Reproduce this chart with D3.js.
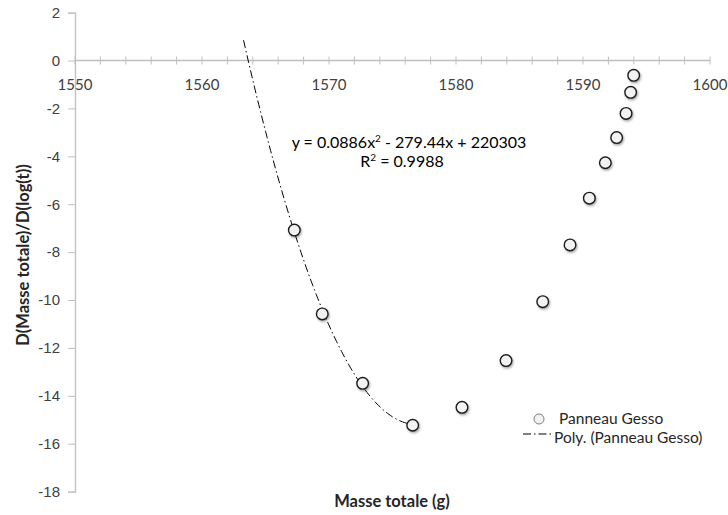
<!DOCTYPE html>
<html>
<head>
<meta charset="utf-8">
<script src="https://cdn.jsdelivr.net/npm/d3@7"></script>
<style>
    body { margin: 0; background: #fff; }
    svg { font-family: Lato, 'Open Sans', sans-serif; }
    .axis text { fill: #404040; font-size: 15px; }
</style>
</head>
<body>
<svg width="728" height="515"></svg>
<script>
// masses (g) and derivative values
let masse = [1567.27, 1569.47, 1572.65, 1576.59, 1580.47, 1583.94, 1586.83,
             1588.98, 1590.5, 1591.76, 1592.65, 1593.39, 1593.75, 1593.99];
let deriv = [-7.08, -10.58, -13.48, -15.23, -14.48, -12.53, -10.07,
             -7.70, -5.75, -4.27, -3.22, -2.21, -1.33, -0.62];
let fitCount = 4;          // trend fitted on the first points
let backcast = 4;          // trend extended backward (g)
let xTicks = [1550, 1560, 1570, 1580, 1590, 1600];
let yTicks = [2, 0, -2, -4, -6, -8, -10, -12, -14, -16, -18];

function main() {
    let svg = d3.select('svg'),
        margin = { top: 12.6, bottom: 23.4, left: 75, right: 18 },
        width = svg.attr('width') - margin.left - margin.right,
        height = svg.attr('height') - margin.top - margin.bottom;

    let xScale = d3.scaleLinear().domain([1550, 1600]).range([margin.left, margin.left + width]),
        yScale = d3.scaleLinear().domain([-18, 2]).range([margin.top + height, margin.top]);

    let data = masse.map((m, i) => ({ x: m, y: deriv[i] }));

    // drop shadow for markers
    let defs = svg.append('defs');
    let f = defs.append('filter').attr('id', 'shadow').attr('x', '-50%').attr('y', '-50%').attr('width', '200%').attr('height', '200%');
    f.append('feDropShadow').attr('dx', 1).attr('dy', 1.5).attr('stdDeviation', 1).attr('flood-color', '#000').attr('flood-opacity', 0.35);

    //Y Axis
    let yAxis = svg.append('g')
        .attr('class', 'axis')
        .attr('transform', 'translate(' + margin.left + ', 0)')
        .call(d3.axisLeft(yScale).tickValues(yTicks).tickSize(7).tickPadding(8).tickFormat(d3.format('d')));
    yAxis.select('.domain').attr('stroke', '#bfbfbf').attr('stroke-width', 1.3);
    yAxis.selectAll('.tick line').attr('stroke', '#bfbfbf');
    yAxis.selectAll('.tick text').text(d => d < 0 ? '-' + Math.abs(d) : d);

    //X Axis at y = 0 with crossing minor ticks
    let xMinor = d3.range(1550, 1600.1, 2);
    let xAxis = svg.append('g')
        .attr('class', 'axis')
        .attr('transform', 'translate(0, ' + yScale(0) + ')');
    xAxis.append('line')
        .attr('x1', xScale(1550)).attr('x2', xScale(1600))
        .attr('stroke', '#bfbfbf').attr('stroke-width', 1.3);
    xAxis.selectAll('line.mt')
        .data(xMinor)
        .enter()
        .append('line')
        .attr('class', 'mt')
        .attr('x1', d => xScale(d)).attr('x2', d => xScale(d))
        .attr('y1', -4).attr('y2', 4)
        .attr('stroke', '#bfbfbf');
    xAxis.selectAll('text')
        .data(xTicks)
        .enter()
        .append('text')
        .attr('x', d => xScale(d))
        .attr('y', 29.5)
        .attr('text-anchor', 'middle')
        .text(d => d);

    // polynomial trend (least squares, order 2)
    let pts = data.slice(0, fitCount);
    let n = pts.length, x0 = d3.mean(pts, d => d.x);
    let S = [0, 0, 0, 0, 0], T = [0, 0, 0];
    pts.forEach(p => {
        let u = p.x - x0;
        for (let k = 0; k < 5; k++) S[k] += Math.pow(u, k);
        for (let k = 0; k < 3; k++) T[k] += p.y * Math.pow(u, k);
    });
    let A = [[S[0], S[1], S[2], T[0]], [S[1], S[2], S[3], T[1]], [S[2], S[3], S[4], T[2]]];
    for (let i = 0; i < 3; i++) {
        for (let j = i + 1; j < 3; j++) {
            let r = A[j][i] / A[i][i];
            for (let k = i; k < 4; k++) A[j][k] -= r * A[i][k];
        }
    }
    let c = [0, 0, 0];
    for (let i = 2; i >= 0; i--) {
        let s = A[i][3];
        for (let k = i + 1; k < 3; k++) s -= A[i][k] * c[k];
        c[i] = s / A[i][i];
    }
    let xStart = pts[0].x - backcast, xEnd = pts[n - 1].x;
    let trend = d3.range(0, 101).map(i => {
        let xv = xStart + (xEnd - xStart) * i / 100, u = xv - x0;
        return { x: xv, y: c[0] + c[1] * u + c[2] * u * u };
    });
    svg.append('path')
        .datum(trend)
        .attr('fill', 'none')
        .attr('stroke', '#000')
        .attr('stroke-width', 1)
        .attr('stroke-dasharray', '8,3,1.5,3')
        .attr('d', d3.line().x(d => xScale(d.x)).y(d => yScale(d.y)));

    //Points
    svg.selectAll('circle.pt')
        .data(data)
        .enter()
        .append('circle')
        .attr('class', 'pt')
        .attr('cx', d => xScale(d.x))
        .attr('cy', d => yScale(d.y))
        .attr('r', 5.8)
        .attr('fill', '#f2f2f2')
        .attr('stroke', '#1a1a1a')
        .attr('stroke-width', 1.4)
        .attr('filter', 'url(#shadow)');

    // equation label
    let eq = svg.append('text').attr('x', 409).attr('y', 147.5).attr('text-anchor', 'middle')
        .style('font-size', '16px').attr('fill', '#000');
    eq.append('tspan').text('y = 0.0886x');
    eq.append('tspan').attr('dy', -6).style('font-size', '10px').text('2');
    eq.append('tspan').attr('dy', 6).text(' - 279.44x + 220303');
    let r2 = svg.append('text').attr('x', 402).attr('y', 166.5).attr('text-anchor', 'middle')
        .style('font-size', '16px').attr('fill', '#000');
    r2.append('tspan').text('R');
    r2.append('tspan').attr('dy', -6).style('font-size', '10px').text('2');
    r2.append('tspan').attr('dy', 6).text(' = 0.9988');

    //Axis titles
    svg.append('text')
        .attr('text-anchor', 'middle')
        .attr('x', 392)
        .attr('y', 507)
        .style('font-size', '16.5px')
        .style('font-weight', 'bold')
        .attr('fill', '#262626')
        .text('Masse totale (g)');
    svg.append('text')
        .attr('text-anchor', 'middle')
        .attr('transform', 'translate(29,' + 255 + ') rotate(-90)')
        .style('font-size', '16.5px')
        .style('font-weight', 'bold')
        .attr('fill', '#262626')
        .text('D(Masse totale)/D(log(t))');

    //Legend
    let legend = svg.append('g').attr('transform', 'translate(0,0)');
    legend.append('circle')
        .attr('cx', 539).attr('cy', 419).attr('r', 5)
        .attr('fill', '#f2f2f2').attr('stroke', '#7f7f7f').attr('stroke-width', 1);
    legend.append('text').attr('x', 559).attr('y', 424)
        .style('font-size', '15.5px').attr('fill', '#262626').text('Panneau Gesso');
    legend.append('line')
        .attr('x1', 523).attr('x2', 553).attr('y1', 434).attr('y2', 434)
        .attr('stroke', '#000').attr('stroke-width', 1)
        .attr('stroke-dasharray', '8,3,1.5,3');
    legend.append('text').attr('x', 554).attr('y', 443)
        .style('font-size', '15.5px').attr('fill', '#262626').text('Poly. (Panneau Gesso)');
}

main();
</script>
</body>
</html>
